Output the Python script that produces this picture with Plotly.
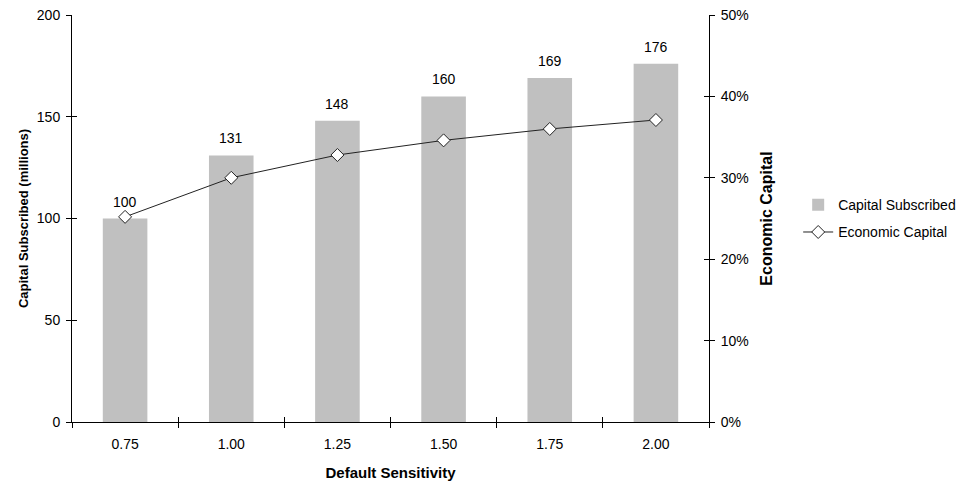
import plotly.graph_objects as go

categories = ["0.75", "1.00", "1.25", "1.50", "1.75", "2.00"]
capital_subscribed = [100, 131, 148, 160, 169, 176]
economic_capital = [0.252, 0.300, 0.328, 0.346, 0.360, 0.371]

FONT = "Liberation Sans, Arial, sans-serif"

fig = go.Figure()
fig.add_trace(go.Bar(
    x=categories, y=capital_subscribed, name="Capital Subscribed",
    marker=dict(color="#c0c0c0", line=dict(width=0)),
    yaxis="y", legendgroup="a",
))
fig.add_trace(go.Scatter(
    x=categories, y=economic_capital, name="Economic Capital",
    mode="lines+markers", yaxis="y2", legendgroup="b",
    line=dict(color="#222222", width=1),
    marker=dict(symbol="diamond", size=10, color="white",
                line=dict(color="#222222", width=1)),
))

# value labels above bars (x given as category index on the category axis)
for i, v in enumerate(capital_subscribed):
    fig.add_annotation(x=i, y=v, xref="x", yref="y", text=str(v),
                       showarrow=False, yanchor="bottom", yshift=7,
                       font=dict(size=14, color="#000000", family=FONT))

axis_common = dict(showgrid=False, zeroline=False, linecolor="#000000",
                   tickcolor="#000000", ticklen=5, tickwidth=1, showline=True,
                   automargin=False, ticklabeloverflow="allow",
                   tickfont=dict(size=14, color="#000000", family=FONT))

# the page body has an 8px default margin; margins compensate for it
fig.update_layout(
    width=975, height=487,
    margin=dict(l=64, r=274, t=7, b=73),
    paper_bgcolor="white", plot_bgcolor="white",
    font=dict(family=FONT, size=14, color="#000000"),
    bargap=0.58,
    showlegend=True,
    legend=dict(x=1.14, y=0.572, xanchor="left", yanchor="top",
                font=dict(size=14), bgcolor="rgba(0,0,0,0)", tracegroupgap=6),
    xaxis=dict(**axis_common, type="category", ticks="outside", tickson="boundaries",
               ticklabelstandoff=9,
               title=dict(text="<b>Default Sensitivity</b>", standoff=16,
                          font=dict(size=15))),
    yaxis=dict(**axis_common, ticks="outside", range=[0, 200], dtick=50,
               ticklabelstandoff=3,
               title=dict(text="<b>Capital Subscribed (millions)</b>", standoff=5,
                          font=dict(size=13))),
    yaxis2=dict(**axis_common, ticks="outside", overlaying="y", side="right",
                range=[0, 0.5], dtick=0.1, tickformat=".0%",
                ticklabelstandoff=3,
                title=dict(text="<b>Economic Capital</b>", standoff=12,
                           font=dict(size=16))),
    # overlay axes so that ticks cross the axis lines
    xaxis2=dict(overlaying="x", matches="x", type="category", showgrid=False,
                zeroline=False, showline=False, ticks="inside", tickson="boundaries",
                ticklen=5, tickcolor="#000000", showticklabels=False,
                anchor="y", automargin=False),
    yaxis3=dict(overlaying="y", matches="y", showgrid=False, zeroline=False,
                showline=False, ticks="inside", ticklen=5, tickcolor="#000000",
                showticklabels=False, dtick=50, anchor="x", side="left",
                automargin=False),
    yaxis4=dict(overlaying="y", matches="y2", showgrid=False, zeroline=False,
                showline=False, ticks="inside", ticklen=5, tickcolor="#000000",
                showticklabels=False, dtick=0.1, anchor="x", side="right",
                automargin=False),
)

fig.add_trace(go.Scatter(x=categories, y=capital_subscribed, xaxis="x2", yaxis="y3",
                         mode="none", showlegend=False, hoverinfo="skip"))
fig.add_trace(go.Scatter(x=categories, y=economic_capital, xaxis="x2", yaxis="y4",
                         mode="none", showlegend=False, hoverinfo="skip"))

fig.write_html("out.html")
